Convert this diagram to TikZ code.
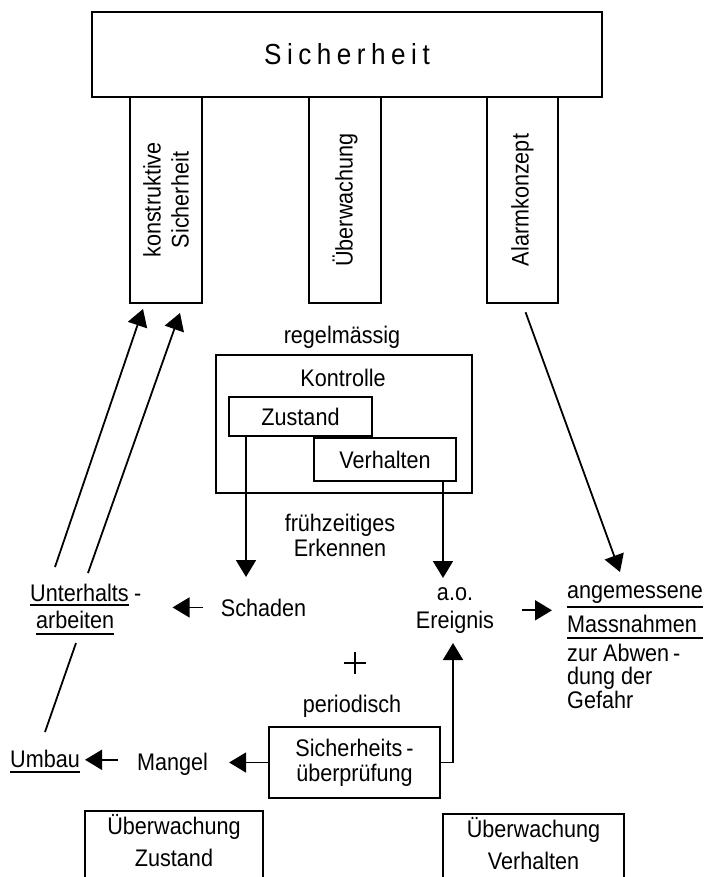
\documentclass[tikz,border=0pt]{standalone}
\usepackage{fontspec}
\setmainfont{Liberation Sans}[FakeStretch=0.9]
\newfontfamily\sperrfont{Liberation Sans}[FakeStretch=0.9, LetterSpace=19]
\usetikzlibrary{arrows.meta}

\tikzset{
  kasten/.style={draw, line width=1.6pt, fill=white, inner sep=0pt, align=center},
  pfeiler/.style={kasten, rotate=90, minimum width=206pt, minimum height=72pt, font=\fontsize{24}{28}\selectfont},
  txt/.style={inner sep=0pt, align=center},
  pfeil/.style={-{Triangle[length=17pt,width=20pt]}, line width=1.8pt},
  strich/.style={line width=1.3pt}
}

\begin{document}
\begin{tikzpicture}[x=1pt, y=-1pt, every node/.style={font=\fontsize{24}{25}\selectfont}]
  \useasboundingbox (0,0) rectangle (707,877);
  \clip (0,0) rectangle (707,877);

  %# DACH UND PFEILER
  \node[kasten, minimum width=510pt, minimum height=85pt, font=\sperrfont\fontsize{29}{30}\selectfont] (sich) at (347,54.5) {Sicherheit};
  \node[pfeiler] (konst) at (166,200) {konstruktive\\Sicherheit};
  \node[pfeiler] (ueberw) at (345,200) {Überwachung};
  \node[pfeiler, minimum height=71pt] (alarm) at (522.5,200) {Alarmkonzept};

  %# KONTROLLE
  \node[txt, anchor=base] (regel) at (342,343) {regelmässig};
  \node[kasten, minimum width=256pt, minimum height=138pt] (kontr) at (344,424) {};
  \node[txt, anchor=base] (kontrt) at (343,386) {Kontrolle};
  \node[kasten, minimum width=143pt, minimum height=39pt] (zust) at (300.5,416.5) {Zustand};
  \node[kasten, minimum width=142pt, minimum height=43pt] (verh) at (385,459.5) {Verhalten};

  %# MITTE
  \node[txt] (frueh) at (340,535.8) {frühzeitiges\\Erkennen};
  \node[txt, anchor=base] (schad) at (263.5,616) {Schaden};
  \node[txt] (ereig) at (455,610.3) {a.o.\\[3pt]Ereignis};
  \node[txt, anchor=base west] (unt1) at (30,601) {Unterhalts};
  \node[txt, anchor=base west] (unth) at (134,601) {-};
  \node[txt, anchor=base west] (unt2) at (36,628) {arbeiten};
  \node[txt, anchor=base west] (massn1) at (567,598) {angemessene};
  \node[txt, anchor=base west] (massn2) at (567,632) {Massnahmen};
  \node[txt, anchor=north west, align=left, font=\fontsize{24}{23.5}\selectfont] (massn3) at (567,643.8) {zur Abwen\,-\\dung der\\Gefahr};

  %# UNTEN
  \node[minimum size=22pt, inner sep=0pt] (plus) at (355,663) {};
  \draw[line width=1.4pt] (plus.north) -- (plus.south) (plus.west) -- (plus.east);
  \node[txt, anchor=base] (period) at (352,712) {periodisch};
  \node[kasten, minimum width=171pt, minimum height=71pt] (pruef) at (354.5,762.5) {Sicherheits\,-\\überprüfung};
  \node[txt, anchor=base west] (umbau) at (10,767) {Umbau};
  \node[txt, anchor=base] (mangel) at (172.5,770) {Mangel};
  \node[kasten, anchor=north, minimum width=178pt, inner ysep=4pt, text depth=40pt, font=\fontsize{24}{32}\selectfont] (ubz) at (174,810) {Überwachung\\Zustand};
  \node[kasten, anchor=north, minimum width=181pt, inner ysep=4pt, text depth=40pt, font=\fontsize{24}{32}\selectfont] (ubv) at (533.5,813) {Überwachung\\Verhalten};

  %# PFEILE
  \coordinate (za) at (246,577);
  \coordinate (va) at (443,578);
  \coordinate (ea) at (453,643);
  \coordinate (am) at (620,572);
  \coordinate (u1) at (55,567);
  \coordinate (k1) at (143,309);
  \coordinate (u2) at (88,573);
  \coordinate (k2) at (180,313);
  \coordinate (ub) at (45,732);
  \coordinate (ut) at (76,643);

  \draw[pfeil] (zust.south -| za) -- (za);
  \draw[pfeil] (verh.south -| va) -- (va);
  \draw[pfeil, shorten <=18pt, shorten >=31pt] (schad.west) -- (schad.west -| unth.east);
  \draw[pfeil, shorten <=28pt, shorten >=15pt] (ereig.east) -- (ereig.east -| massn1.west);
  \draw[pfeil, shorten <=9pt] (alarm.west) -- (am);
  \draw[pfeil] (u1) -- (k1);
  \draw[pfeil] (u2) -- (k2);
  \draw[line width=1.8pt] (ub) -- (ut);
  \draw[pfeil, shorten >=21pt] (pruef.west) -- (pruef.west -| mangel.east);
  \draw[pfeil, shorten <=19pt, shorten >=5pt] ([yshift=4pt]mangel.west) -- ([yshift=4pt]mangel.west -| umbau.east);
  \draw[pfeil] (pruef.east) -| (ea);

  %# UNTERSTREICHUNGEN
  \draw[strich] ([yshift=-4pt]unt1.base west) -- ([yshift=-4pt]unt1.base east);
  \draw[strich] ([yshift=-6pt]unt2.base west) -- ([yshift=-6pt]unt2.base east);
  \draw[strich] ([yshift=-5pt]umbau.base west) -- ([yshift=-5pt]umbau.base east);
  \draw[strich] ([yshift=-9pt]massn1.base west) -- ([yshift=-9pt]massn1.base east);
  \draw[strich] ([yshift=-6pt]massn2.base west) -- ([yshift=-6pt]massn2.base west -| massn1.base east);
\end{tikzpicture}
\end{document}
